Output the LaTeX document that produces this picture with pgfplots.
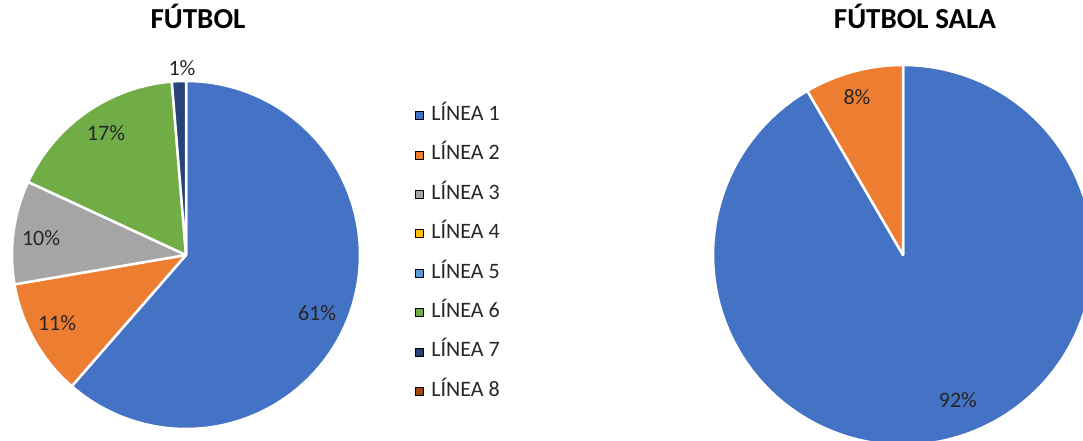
\documentclass[border=0pt]{standalone}
\usepackage{pgfplots}
\pgfplotsset{compat=1.18}
\usepackage{fontspec}
\setmainfont{Carlito}
\definecolor{c1}{HTML}{4472C4}
\definecolor{c2}{HTML}{ED7D31}
\definecolor{c3}{HTML}{A5A5A5}
\definecolor{c4}{HTML}{FFC000}
\definecolor{c5}{HTML}{5B9BD5}
\definecolor{c6}{HTML}{70AD47}
\definecolor{c7}{HTML}{264478}
\definecolor{c8}{HTML}{9E480E}
\definecolor{txt}{HTML}{262626}
% #1 = cumulative share before the slice, #2 = share (%), #3 = colour
\newcommand\slice[3]{%
  \pgfmathsetmacro\sa{90-3.6*(#1+#2)}%
  \pgfmathsetmacro\sb{90-3.6*(#1)}%
  \addplot[fill=#3, draw=white, line width=2.5pt, line join=round,
    domain=\sa:\sb, samples=120, forget plot] ({cos(x)},{sin(x)}) -- (0,0) -- cycle;%
}
\pgfplotsset{pie/.style={hide axis, scale only axis, xmin=-1, xmax=1, ymin=-1, ymax=1,
  clip=false, anchor=origin}}
\begin{document}
\begin{tikzpicture}[x=1pt,y=1pt]
\path[use as bounding box, clip] (0,0) rectangle (1083,441);
\begin{axis}[pie, at={(186pt,186pt)}, width=348pt, height=348pt,
  legend image code/.code={\fill[#1] (0pt,-4pt) rectangle (8pt,4pt); \path (12pt,0pt);},
  legend style={draw=none, fill=none, inner sep=0pt, outer sep=0pt,
    at={(axis description cs:1.158,0.927)}, anchor=north west,
    font=\fontsize{22}{26}\selectfont\color{txt},
    nodes={inner ysep=0pt, inner xsep=4pt, text height=14pt, text depth=4pt},
    row sep=21.4pt, legend cell align=left}]
\slice{0}{61.4}{c1}
\slice{61.4}{10.9}{c2}
\slice{72.3}{9.6}{c3}
\slice{81.9}{16.8}{c6}
\slice{98.7}{1.3}{c7}
\addlegendimage{fill=c1}\addlegendentry{LÍNEA 1}
\addlegendimage{fill=c2}\addlegendentry{LÍNEA 2}
\addlegendimage{fill=c3}\addlegendentry{LÍNEA 3}
\addlegendimage{fill=c4}\addlegendentry{LÍNEA 4}
\addlegendimage{fill=c5}\addlegendentry{LÍNEA 5}
\addlegendimage{fill=c6}\addlegendentry{LÍNEA 6}
\addlegendimage{fill=c7}\addlegendentry{LÍNEA 7}
\addlegendimage{fill=c8}\addlegendentry{LÍNEA 8}
\begin{scope}[every node/.style={font=\fontsize{22}{26}\selectfont, text=txt}]
\node at (axis cs:0.753,-0.333) {61\%};
\node at (axis cs:-0.741,-0.391) {11\%};
\node at (axis cs:-0.833,0.098) {10\%};
\node at (axis cs:-0.460,0.701) {17\%};
\node at (axis cs:-0.023,1.075) {1\%};
\end{scope}
\end{axis}
\begin{axis}[pie, at={(903pt,186pt)}, width=380pt, height=380pt]
\slice{0}{91.6}{c1}
\slice{91.6}{8.4}{c2}
\begin{scope}[every node/.style={font=\fontsize{22}{26}\selectfont, text=txt}]
\node at (axis cs:-0.242,0.832) {8\%};
\node at (axis cs:0.289,-0.763) {92\%};
\end{scope}
\end{axis}
\node[anchor=base, font=\fontsize{29}{33}\selectfont\bfseries] at (198,412) {FÚTBOL};
\node[anchor=base, font=\fontsize{29}{33}\selectfont\bfseries] at (915,412) {FÚTBOL SALA};
\end{tikzpicture}
\end{document}
